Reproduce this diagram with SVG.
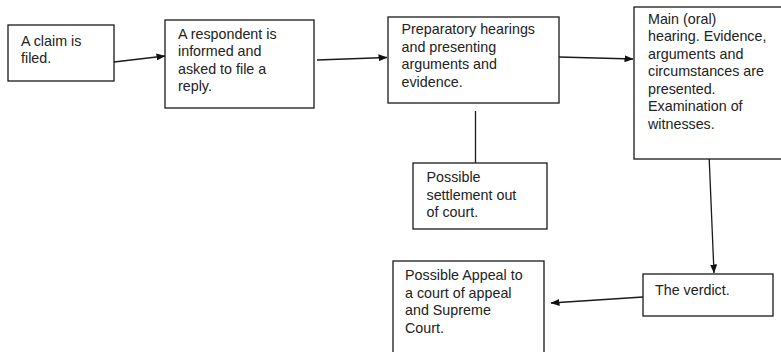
<svg xmlns="http://www.w3.org/2000/svg" width="781" height="352" viewBox="0 0 781 352">
<defs>
<marker id="ah" markerWidth="9" markerHeight="7" refX="8.5" refY="3.5" orient="auto" markerUnits="userSpaceOnUse">
<path d="M0,0 L9,3.5 L0,7 Z" fill="#111"/>
</marker>
<style>
.box{fill:#fff;stroke:#1a1a1a;stroke-width:1.3}
.t{font-family:"Liberation Sans",Arial,sans-serif;font-size:14.3px;fill:#222}
.c{stroke:#1a1a1a;stroke-width:1.3;fill:none}
.a{marker-end:url(#ah)}
</style>
</defs>
<rect width="781" height="352" fill="#fff"/>
<g id="connectors">
<line class="c a" x1="114" y1="62" x2="165" y2="56"/>
<line class="c a" x1="317" y1="60" x2="387" y2="57.5"/>
<line class="c a" x1="559" y1="57" x2="633" y2="59"/>
<line class="c" x1="475.5" y1="111" x2="475.5" y2="163"/>
<line class="c a" x1="709" y1="154" x2="714" y2="273"/>
<line class="c a" x1="643" y1="297" x2="551" y2="303"/>
</g>
<g id="n1">
<rect class="box" x="8" y="25" width="106" height="56"/>
<text class="t" x="21" y="45.5">A claim is</text>
<text class="t" x="21" y="62.5">filed.</text>
</g>
<g id="n2">
<rect class="box" x="165" y="20" width="149" height="88"/>
<text class="t" x="178" y="38.5">A respondent is</text>
<text class="t" x="178" y="56">informed and</text>
<text class="t" x="178" y="73.5">asked to file a</text>
<text class="t" x="178" y="91">reply.</text>
</g>
<g id="n3">
<rect class="box" x="388" y="17" width="171" height="86"/>
<text class="t" x="401.5" y="34">Preparatory hearings</text>
<text class="t" x="401.5" y="51.5">and presenting</text>
<text class="t" x="401.5" y="69">arguments and</text>
<text class="t" x="401.5" y="86.5">evidence.</text>
</g>
<g id="n4">
<rect class="box" x="634" y="7" width="152" height="152"/>
<text class="t" x="648" y="23.5">Main (oral)</text>
<text class="t" x="648" y="41">hearing. Evidence,</text>
<text class="t" x="648" y="58.5">arguments and</text>
<text class="t" x="648" y="76">circumstances are</text>
<text class="t" x="648" y="93.5">presented.</text>
<text class="t" x="648" y="111">Examination of</text>
<text class="t" x="648" y="128.5">witnesses.</text>
</g>
<g id="n5">
<rect class="box" x="413" y="163" width="134" height="66"/>
<text class="t" x="426.5" y="182">Possible</text>
<text class="t" x="426.5" y="199.5">settlement out</text>
<text class="t" x="426.5" y="217">of court.</text>
</g>
<g id="n6">
<rect class="box" x="643" y="274" width="130" height="42"/>
<text class="t" x="655" y="294.5">The verdict.</text>
</g>
<g id="n7">
<rect class="box" x="393" y="261" width="151" height="100"/>
<text class="t" x="405" y="280">Possible Appeal to</text>
<text class="t" x="405" y="297.5">a court of appeal</text>
<text class="t" x="405" y="315">and Supreme</text>
<text class="t" x="405" y="332.5">Court.</text>
</g>
</svg>
